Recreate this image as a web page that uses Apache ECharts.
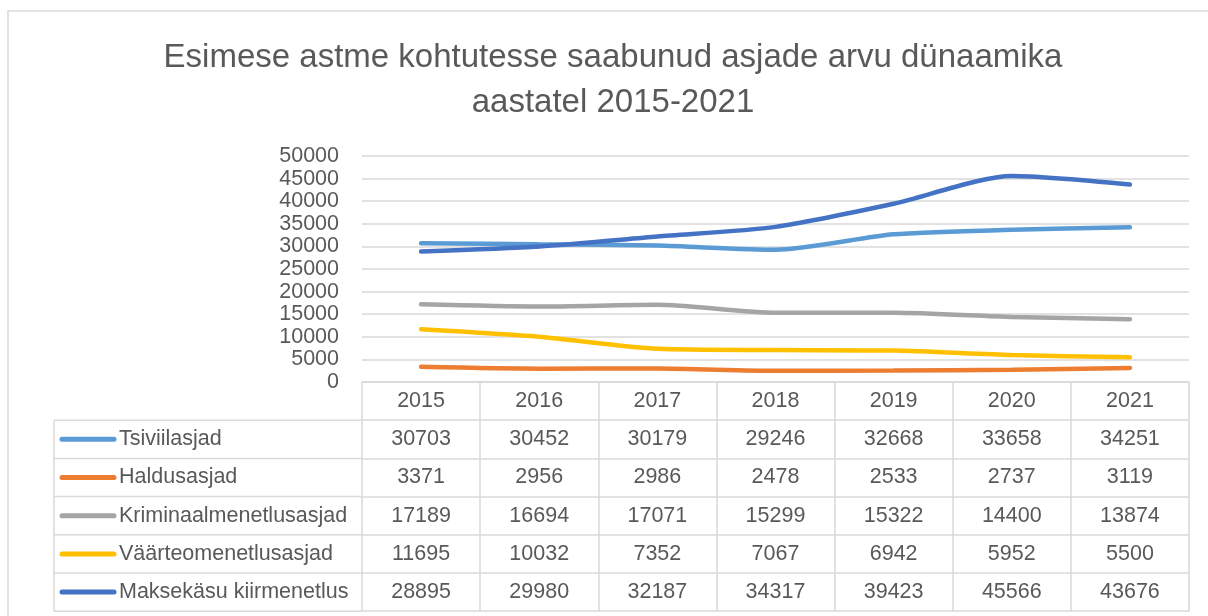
<!DOCTYPE html>
<html>
<head>
<meta charset="utf-8">
<style>
  html, body { margin: 0; padding: 0; background: #fff; }
  #main { width: 1208px; height: 616px; }
</style>
<script src="https://cdn.jsdelivr.net/npm/echarts@6/dist/echarts.min.js"></script>
</head>
<body>
<div id="main"></div>
<script>
// data
var years = ['2015', '2016', '2017', '2018', '2019', '2020', '2021']
var seriesNames = ['Tsiviilasjad', 'Haldusasjad', 'Kriminaalmenetlusasjad', 'Väärteomenetlusasjad', 'Maksekäsu kiirmenetlus']
var tsiviil = [30703, 30452, 30179, 29246, 32668, 33658, 34251]
var haldus = [3371, 2956, 2986, 2478, 2533, 2737, 3119]
var kriminaal = [17189, 16694, 17071, 15299, 15322, 14400, 13874]
var vaarteo = [11695, 10032, 7352, 7067, 6942, 5952, 5500]
var maksekasu = [28895, 29980, 32187, 34317, 39423, 45566, 43676]
var seriesData = [tsiviil, haldus, kriminaal, vaarteo, maksekasu]

var colors = ['#5B9BD5', '#ED7D31', '#A5A5A5', '#FFC000', '#4472C4']
var textColor = '#595959'
var lineColor = '#d9d9d9'
var font = 'Liberation Sans'
var fontSize = 21.5

// layout of the plot + data table
var plotLeft = 362
var plotRight = 1189
var plotTop = 156
var plotBottom = 382
var rowH = 38.2
var tableLeft = 54

var chart = echarts.init(document.getElementById('main'))

function tableAxis(labels, idx) {
  return {
    type: 'category',
    position: 'bottom',
    offset: idx * rowH,
    data: labels,
    boundaryGap: true,
    axisLine: { show: true, lineStyle: { color: lineColor, width: 1.5 } },
    axisTick: { show: true, interval: 0, length: rowH, lineStyle: { color: lineColor, width: 1.5 } },
    axisLabel: {
      show: true, interval: 0, margin: rowH / 2, verticalAlign: 'middle',
      color: textColor, fontFamily: font, fontSize: fontSize
    },
    splitLine: { show: false }
  }
}

var xAxes = [tableAxis(years, 0)]
seriesData.forEach(function (arr, i) {
  xAxes.push(tableAxis(arr.map(String), i + 1))
})
// bottom border of the table
var last = tableAxis(years.map(function () { return '' }), seriesData.length + 1)
last.axisTick.show = false
last.axisLabel.show = false
xAxes.push(last)

var graphics = [{
  type: 'rect',
  shape: { x: 8, y: 11, width: 1300, height: 700 },
  style: { fill: 'none', stroke: lineColor, lineWidth: 1.5 },
  silent: true
}, {
  type: 'line',
  shape: { x1: tableLeft, y1: plotBottom + rowH, x2: tableLeft, y2: plotBottom + rowH * (seriesNames.length + 1) },
  style: { stroke: lineColor, lineWidth: 1.5 }
}]
for (var r = 1; r <= seriesNames.length + 1; r++) {
  graphics.push({
    type: 'line',
    shape: { x1: tableLeft, y1: plotBottom + rowH * r, x2: plotLeft, y2: plotBottom + rowH * r },
    style: { stroke: lineColor, lineWidth: 1.5 }
  })
}
seriesNames.forEach(function (name, i) {
  var cy = plotBottom + rowH * (i + 1.5)
  graphics.push({
    type: 'line',
    shape: { x1: 62, y1: cy, x2: 114, y2: cy },
    style: { stroke: colors[i], lineWidth: 5, lineCap: 'round' }
  })
  graphics.push({
    type: 'text',
    x: 119, y: cy,
    style: { text: name, fill: textColor, font: fontSize + 'px "' + font + '"', textVerticalAlign: 'middle', textAlign: 'left' }
  })
})

chart.setOption({
  backgroundColor: '#fff',
  animation: false,
  title: {
    text: 'Esimese astme kohtutesse saabunud asjade arvu dünaamika\naastatel 2015-2021',
    left: 613,
    top: 35,
    padding: 0,
    textAlign: 'center',
    textStyle: { color: textColor, fontFamily: font, fontSize: 33, fontWeight: 'normal', lineHeight: 45 }
  },
  grid: { left: plotLeft, right: 1208 - plotRight, top: plotTop, bottom: 616 - plotBottom, containLabel: false },
  xAxis: xAxes,
  yAxis: {
    type: 'value',
    min: 0,
    max: 50000,
    interval: 5000,
    axisLine: { show: false },
    axisTick: { show: false },
    axisLabel: {
      color: textColor, fontFamily: font, fontSize: fontSize, margin: 23,
      formatter: function (v) { return String(v) }
    },
    splitLine: { lineStyle: { color: lineColor, width: 1.5 } }
  },
  series: seriesNames.map(function (name, i) {
    return {
      name: name,
      type: 'line',
      data: seriesData[i],
      smooth: 0.25,
      symbol: 'none',
      lineStyle: { color: colors[i], width: 4.5, cap: 'round' },
      itemStyle: { color: colors[i] }
    }
  }),
  graphic: graphics
})
</script>
</body>
</html>
